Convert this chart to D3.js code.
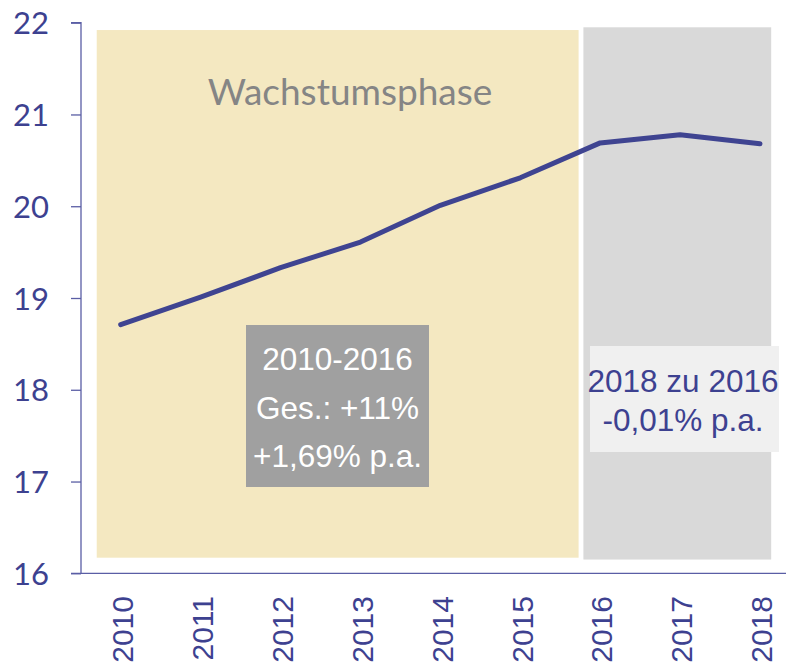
<!DOCTYPE html>
<html>
<head>
<meta charset="utf-8">
<script src="https://cdn.jsdelivr.net/npm/d3@7"></script>
<style>
  body { margin: 0; background: #fff; }
  svg { display: block; }
</style>
</head>
<body>
<div id="chart"></div>
<script>
// data
var years = [2010, 2011, 2012, 2013, 2014, 2015, 2016, 2017, 2018];
var values = [18.71, 19.01, 19.33, 19.61, 20.01, 20.31, 20.69, 20.78, 20.68];
var yTicks = [16, 17, 18, 19, 20, 21, 22];
// phases in year / value units
var phaseNames = ["Wachstumsphase", ""];
var phaseStart = [2009.7, 2015.79];
var phaseEnd = [2015.73, 2018.14];
var phaseLow = [16.17, 16.15];
var phaseHigh = [21.92, 21.95];
var phaseColors = ["#f4e8c1", "#d9d9d9"];
var boxLines1 = ["2010-2016", "Ges.: +11%", "+1,69% p.a."];
var boxLines2 = ["2018 zu 2016", "-0,01% p.a."];

var W = 786, H = 665;
var navy = "#3d4190";

var svg = d3.select("#chart").append("svg")
    .attr("width", W)
    .attr("height", H);

var x = d3.scaleLinear().domain([2010, 2018]).range([120.7, 760]);
var y = d3.scaleLinear().domain([16, 22]).range([573.3, 22.7]);

// background phases
svg.selectAll("rect.phase")
  .data(phaseStart)
  .enter().append("rect")
  .attr("class", "phase")
  .attr("x", (d, i) => x(d))
  .attr("width", (d, i) => x(phaseEnd[i]) - x(d))
  .attr("y", (d, i) => y(phaseHigh[i]))
  .attr("height", (d, i) => y(phaseLow[i]) - y(phaseHigh[i]))
  .attr("fill", (d, i) => phaseColors[i]);

svg.append("text")
  .attr("x", 350)
  .attr("y", 105)
  .attr("text-anchor", "middle")
  .attr("font-family", "Lato, 'Open Sans', sans-serif")
  .attr("font-size", 37)
  .attr("fill", "#858585")
  .text(phaseNames[0]);

// y axis
var yAxis = d3.axisLeft(y)
    .tickValues(yTicks)
    .tickSize(10)
    .tickPadding(22)
    .tickFormat(d3.format("d"));

var gy = svg.append("g")
    .attr("transform", "translate(81,0)")
    .call(yAxis);
gy.select(".domain")
  .attr("stroke", "#5a5ea5")
  .attr("stroke-width", 1.3)
  .attr("d", "M-10," + y(22) + "H0V" + y(16));
gy.selectAll(".tick line").attr("stroke", "#5a5ea5").attr("stroke-width", 1.3);
gy.selectAll(".tick text")
  .attr("fill", navy)
  .attr("font-family", "Lato, 'Open Sans', sans-serif")
  .attr("font-size", 31)
  .attr("dy", "0.36em");

// x axis line
svg.append("line")
  .attr("x1", 71).attr("x2", W)
  .attr("y1", y(16)).attr("y2", y(16))
  .attr("stroke", "#5a5ea5")
  .attr("stroke-width", 1.3);

// x labels, rotated
svg.selectAll("text.year")
  .data(years)
  .enter().append("text")
  .attr("class", "year")
  .attr("transform", d => "translate(" + (x(d) + 1.5) + ",596) rotate(-90)")
  .attr("text-anchor", "end")
  .attr("dy", "0.36em")
  .attr("font-family", "'Liberation Sans', Arial, sans-serif")
  .attr("font-size", 30)
  .attr("fill", navy)
  .text(d => d);

// line
var line = d3.line()
    .x((d, i) => x(years[i]))
    .y(d => y(d));

svg.append("path")
  .attr("d", line(values))
  .attr("fill", "none")
  .attr("stroke", "#3f4491")
  .attr("stroke-width", 5)
  .attr("stroke-linecap", "round")
  .attr("stroke-linejoin", "round");

// annotation boxes
svg.append("rect")
  .attr("x", 246).attr("y", 325)
  .attr("width", 183).attr("height", 162)
  .attr("fill", "#a0a0a0");
svg.selectAll("text.b1")
  .data(boxLines1)
  .enter().append("text")
  .attr("class", "b1")
  .attr("x", 337.5)
  .attr("y", (d, i) => 370 + i * 48.5)
  .attr("text-anchor", "middle")
  .attr("font-family", "'Liberation Sans', Arial, sans-serif")
  .attr("font-size", 31.5)
  .attr("fill", "#fff")
  .text(d => d);

svg.append("rect")
  .attr("x", 590).attr("y", 346)
  .attr("width", 189).attr("height", 106)
  .attr("fill", "#f0f0f0");
svg.selectAll("text.b2")
  .data(boxLines2)
  .enter().append("text")
  .attr("class", "b2")
  .attr("x", 683)
  .attr("y", (d, i) => 392 + i * 38.5)
  .attr("text-anchor", "middle")
  .attr("font-family", "'Liberation Sans', Arial, sans-serif")
  .attr("font-size", 31.5)
  .attr("fill", navy)
  .text(d => d);
</script>
</body>
</html>
